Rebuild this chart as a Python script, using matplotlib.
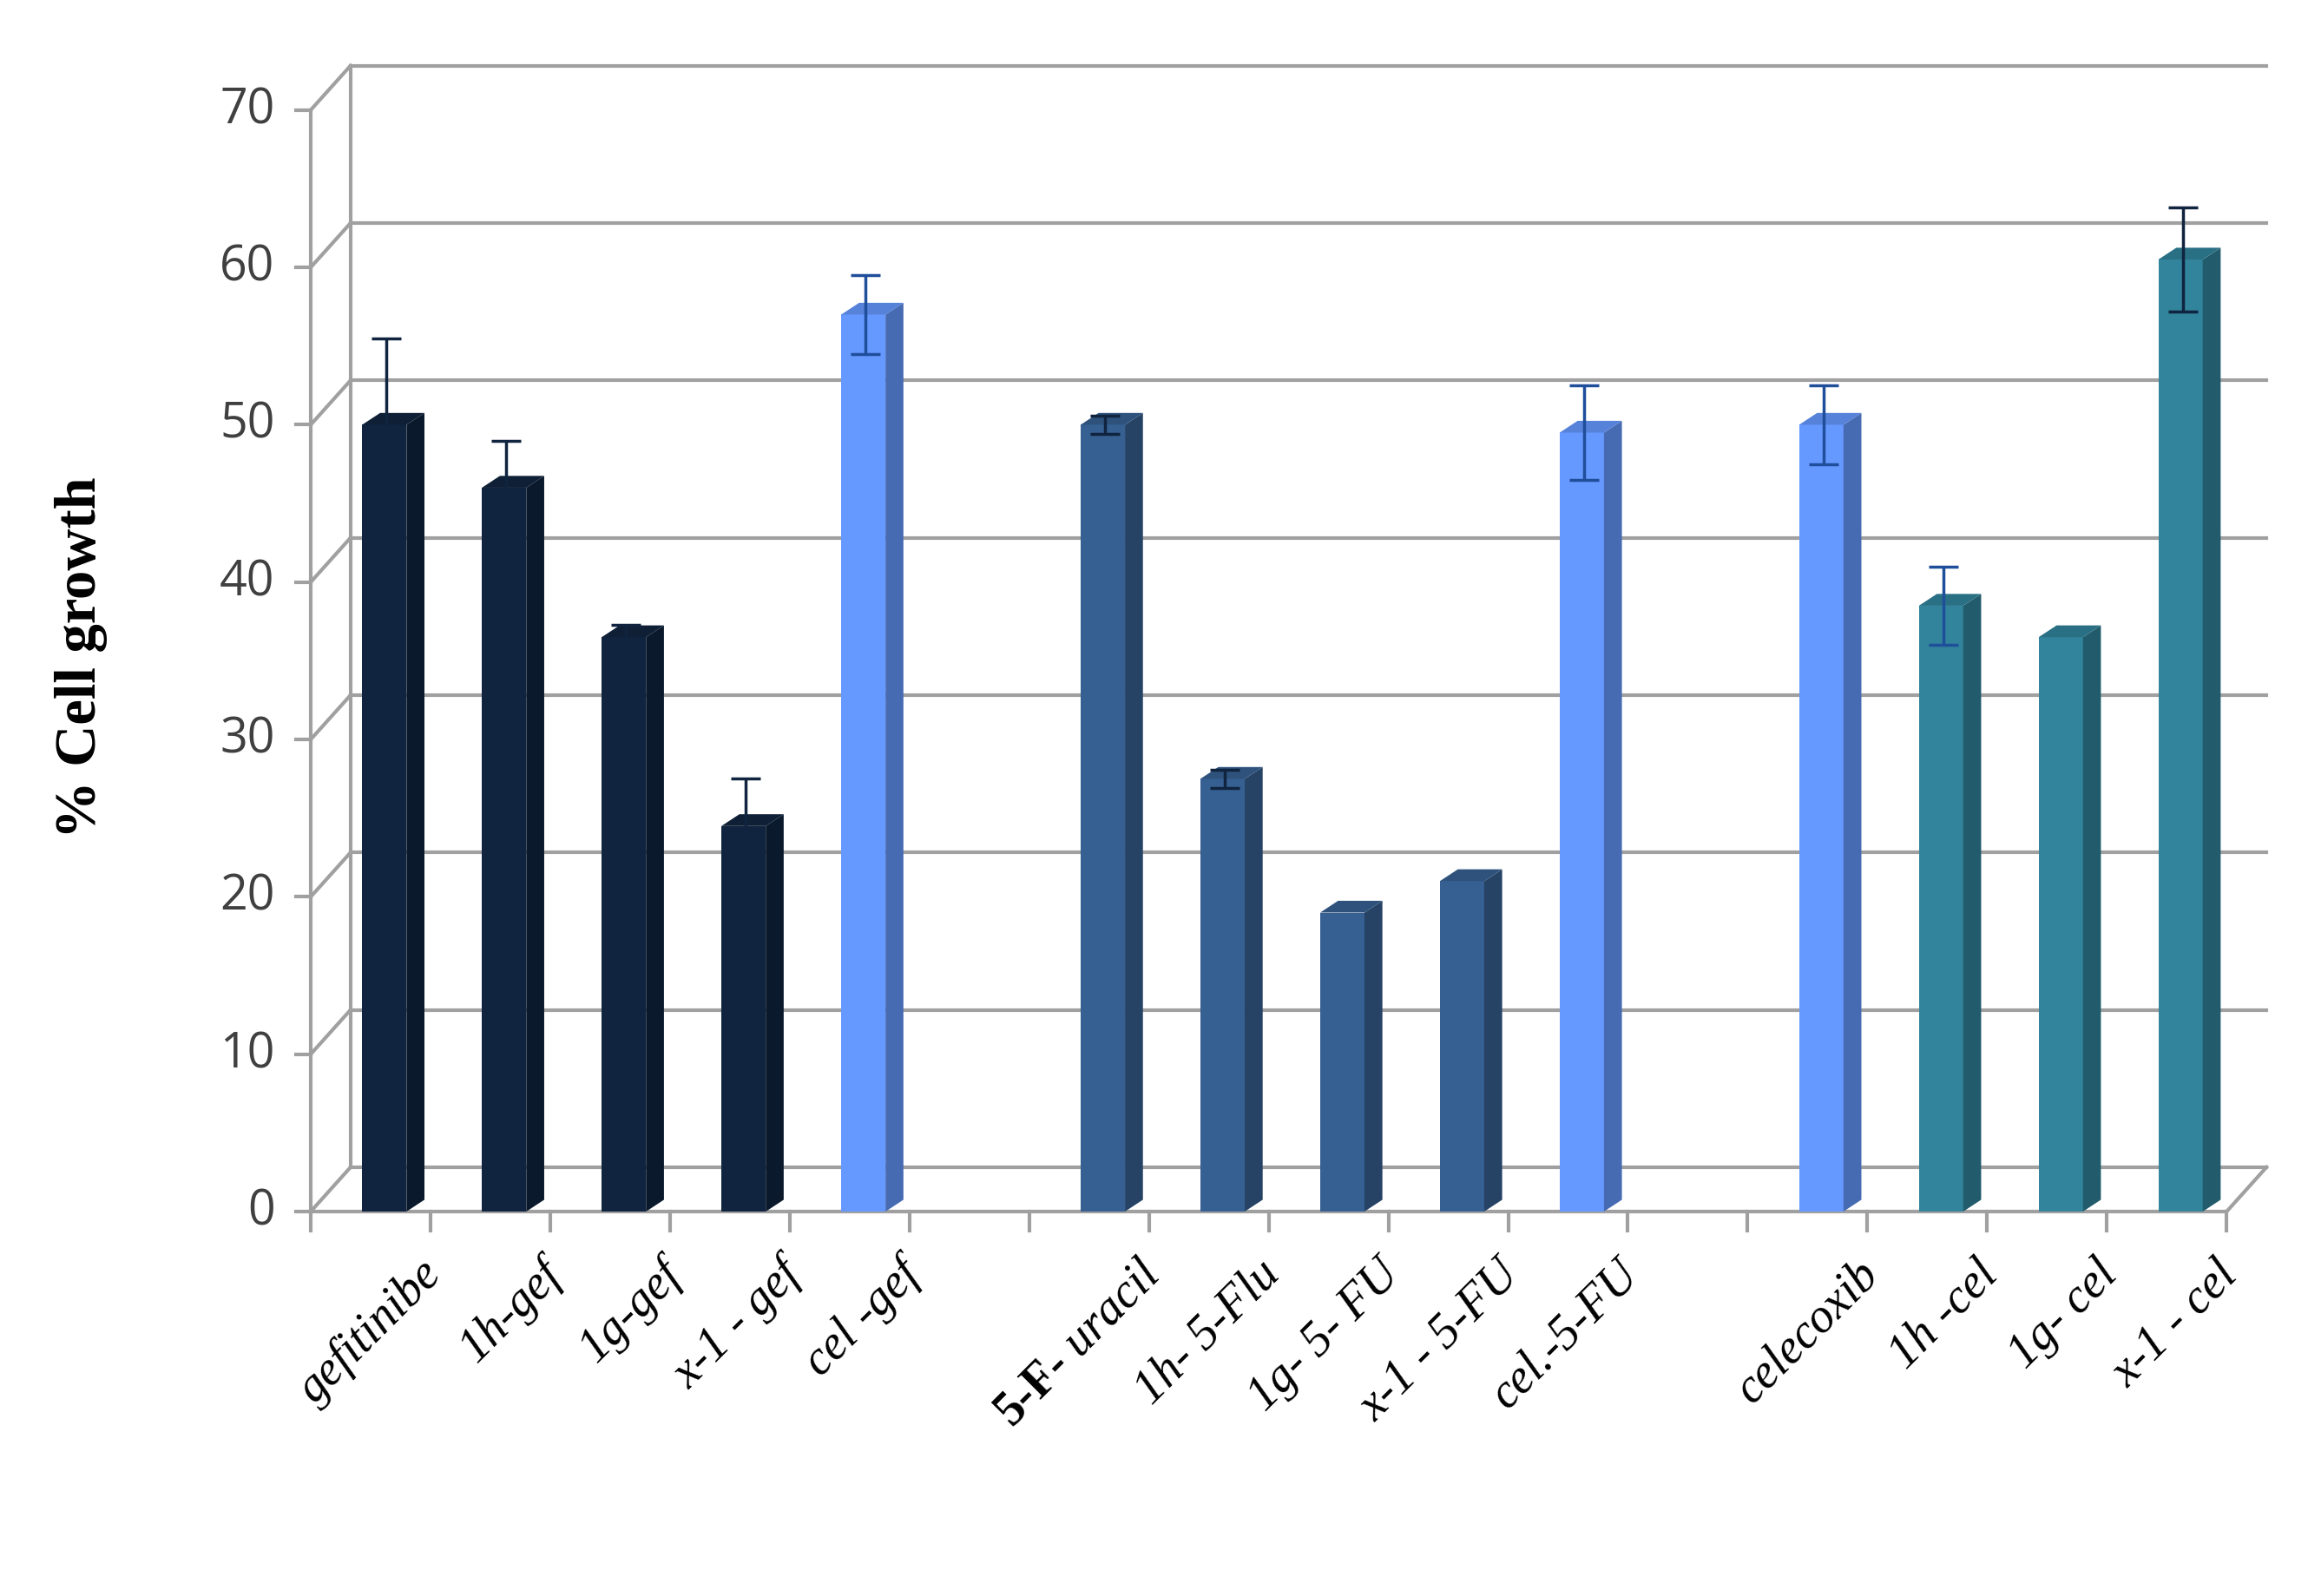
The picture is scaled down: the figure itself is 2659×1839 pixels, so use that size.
import matplotlib.pyplot as plt
from matplotlib.patches import Polygon

# data (16 slots, '' = gap)
labels = ['gefitinibe', '1h-gef', '1g-gef', 'x-1 - gef', 'cel -gef', '',
          '5-F- uracil', '1h- 5-Flu', '1g- 5- FU', 'x-1 - 5-FU', 'cel.-5-FU', '',
          'celecoxib', '1h -cel', '1g- cel', 'x-1 - cel']
values = [50, 46, 36.5, 24.5, 57, None, 50, 27.5, 19, 21, 49.5, None, 50, 38.5, 36.5, 60.5]
errors = [5.5, 3, 0.8, 3, 2.5, None, 0.6, 0.6, 0, 0, 3, None, 2.5, 2.5, 0, 3.3]
colors = ['#10243f'] * 4 + ['#6699ff', None] + ['#366092'] * 4 + ['#6699ff', None, '#6699ff'] + ['#31849b'] * 3
err_colors = ['#10243f'] * 4 + ['#1f4e9a', None] + ['#10243f'] * 4 + ['#1f4e9a', None, '#1f4e9a', '#1f4e9a', '#1f4e9a', '#10243f']


def darker(c, f):
    r, g, b = [int(c[i:i + 2], 16) / 255 for i in (1, 3, 5)]
    return (r * f, g * f, b * f)


fig = plt.figure(figsize=(26.59, 18.4), dpi=100)
ax = fig.add_axes([210 / 1560, 1 - 820 / 1080, 1295 / 1560, 745 / 1080])
ax.set_xlim(0, 16)
ax.set_ylim(0, 70)
ax.axis('off')

grid = '#a0a0a0'
lw = 3
dx, dy = 0.333, 2.82
# back wall grid + left axis diagonals
for v in range(0, 80, 10):
    ax.plot([dx, 16 + dx], [v + dy, v + dy], color=grid, lw=lw, clip_on=False, zorder=1)
    ax.plot([0, dx], [v, v + dy], color=grid, lw=lw, clip_on=False, zorder=1)
    ax.plot([-0.12, 0], [v, v], color=grid, lw=lw, clip_on=False)
    ax.text(-0.3, v, str(v), ha='right', va='center', fontsize=40, color='#404040',
            family='Open Sans')
ax.plot([0, 0], [0, 70], color=grid, lw=lw, clip_on=False)
ax.plot([dx, dx], [dy, 70 + dy], color=grid, lw=lw, clip_on=False, zorder=1)
# floor
ax.plot([0, 16], [0, 0], color=grid, lw=lw, clip_on=False)
ax.plot([16, 16 + dx], [0, dy], color=grid, lw=lw, clip_on=False)
for i in range(17):
    ax.plot([i, i], [0, -1.2], color=grid, lw=lw, clip_on=False)

# bars with pseudo-3D faces
x0, w, sd, sh = 0.43, 0.37, 0.15, 0.75
for i, (v, c) in enumerate(zip(values, colors)):
    if v is None:
        continue
    l, r = i + x0, i + x0 + w
    ax.bar(l, v, width=w, align='edge', color=c, edgecolor='none', zorder=3)
    ax.add_patch(Polygon([(r, 0), (r + sd, sh), (r + sd, v + sh), (r, v)],
                         color=darker(c, 0.7), zorder=3, lw=0))
    ax.add_patch(Polygon([(l, v), (l + sd, v + sh), (r + sd, v + sh), (r, v)],
                         color=darker(c, 0.85), zorder=3, lw=0))
    e = errors[i]
    if e:
        ax.errorbar(i + x0 + w * 0.55, v, yerr=[[e], [e]], color=err_colors[i],
                    capsize=12, elinewidth=2.5, capthick=2.5, zorder=4)

# x labels
fig.canvas.draw()
rend = fig.canvas.get_renderer()
for i, lab in enumerate(labels):
    if not lab:
        continue
    x = i + 0.9
    if lab.startswith('5-F-'):
        t = ax.text(x, -2.5, ' uracil', rotation=45, ha='right', va='top',
                    rotation_mode='anchor', fontsize=40, style='italic',
                    family='Liberation Serif')
        tmp = ax.text(0, 0, ' uracil', fontsize=40, style='italic', family='Liberation Serif')
        wpx = tmp.get_window_extent(rend).width
        tmp.remove()
        px, py = ax.transData.transform((x, -2.5))
        px -= wpx * 0.7071
        py -= wpx * 0.7071
        bx, by = ax.transData.inverted().transform((px, py))
        ax.text(bx, by, '5-F-', rotation=45, ha='right', va='top',
                rotation_mode='anchor', fontsize=40, weight='bold',
                family='Liberation Serif')
    else:
        ax.text(x, -2.5, lab, rotation=45, ha='right', va='top',
                rotation_mode='anchor', fontsize=40, style='italic',
                family='Liberation Serif')

fig.text(55 / 1560, 1 - 445 / 1080, '% Cell growth', rotation=90, ha='center',
         va='center', fontsize=48, weight='bold', family='Liberation Serif')

plt.savefig('out.png')
